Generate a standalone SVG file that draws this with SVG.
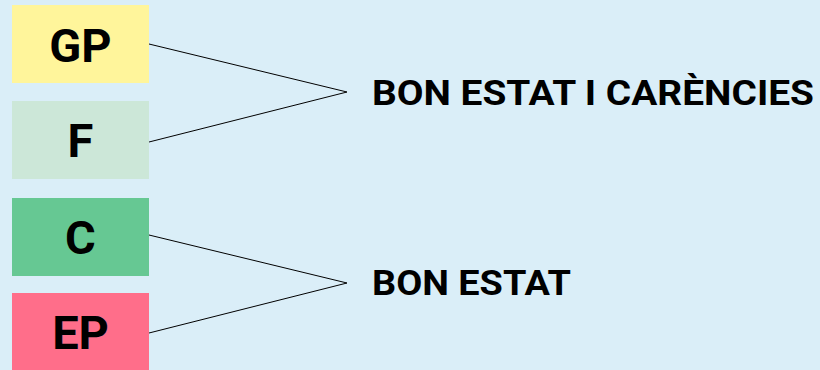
<svg xmlns="http://www.w3.org/2000/svg" width="820" height="370" viewBox="0 0 820 370">
<style>
.lbl{font-family:Roboto,"Liberation Sans",sans-serif;font-weight:bold;font-size:47px;fill:#000;text-anchor:middle}
.res{font-family:Roboto,"Liberation Sans",sans-serif;font-weight:bold;font-size:35px;fill:#000}
.ln{stroke:#000;stroke-width:1;fill:none}
</style>
<rect width="820" height="370" fill="#daeef8"/>
<g id="GP"><rect x="12" y="5" width="137" height="78" fill="#fff59b"/><text class="lbl" x="80.5" y="62">GP</text></g>
<g id="F"><rect x="12" y="101" width="137" height="78" fill="#cce7d8"/><text class="lbl" x="80.5" y="157">F</text></g>
<g id="C"><rect x="12" y="198" width="137" height="78" fill="#66c893"/><text class="lbl" x="80.5" y="254">C</text></g>
<g id="EP"><rect x="12" y="293" width="137" height="77" fill="#ff6e8a"/><text class="lbl" x="80.5" y="349">EP</text></g>
<g id="connectors">
<polyline class="ln" points="149,44 347,92 149,142"/>
<polyline class="ln" points="149,235 347,283 149,333"/>
</g>
<g id="r1"><text class="res" x="372" y="105" textLength="442" lengthAdjust="spacingAndGlyphs">BON ESTAT I CARÈNCIES</text></g>
<g id="r2"><text class="res" x="372" y="295" textLength="199" lengthAdjust="spacingAndGlyphs">BON ESTAT</text></g>
</svg>
